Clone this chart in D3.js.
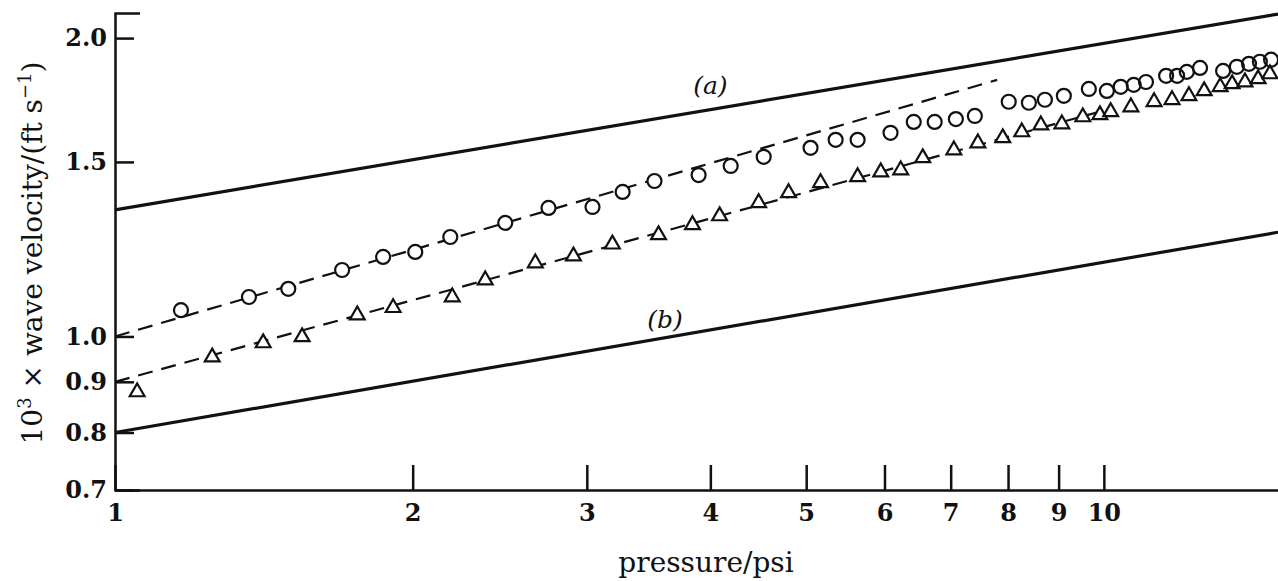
<!DOCTYPE html>
<html>
<head>
<meta charset="utf-8">
<script src="https://cdn.jsdelivr.net/npm/d3@7"></script>
<style>
  html, body { margin: 0; padding: 0; background: #fff; }
  svg { display: block; }
  text { font-family: "DejaVu Serif", serif; fill: #111; }
</style>
</head>
<body>
<svg id="chart" width="1278" height="581"></svg>
<script>
// Measured wave velocities (10^3 ft/s) against pressure (psi)
const circlePressure = [1.166, 1.366, 1.497, 1.697, 1.867, 2.012, 2.183, 2.481, 2.744, 3.040,
  3.261, 3.512, 3.892, 4.194, 4.529, 5.051, 5.355, 5.636, 6.085, 6.423, 6.744, 7.085, 7.405,
  8.013, 8.398, 8.717, 9.110, 9.656, 10.07, 10.40, 10.72, 11.03, 11.56, 11.86, 12.13, 12.51,
  13.20, 13.63, 14.02, 14.38, 14.76];
const circleVelocity = [1.063, 1.096, 1.117, 1.167, 1.203, 1.217, 1.260, 1.302, 1.348, 1.351,
  1.399, 1.435, 1.455, 1.486, 1.518, 1.550, 1.579, 1.579, 1.605, 1.646, 1.646, 1.657, 1.669,
  1.725, 1.721, 1.733, 1.749, 1.777, 1.769, 1.786, 1.794, 1.806, 1.832, 1.832, 1.849, 1.866,
  1.853, 1.871, 1.884, 1.893, 1.902];

const trianglePressure = [1.053, 1.254, 1.412, 1.546, 1.758, 1.911, 2.193, 2.368, 2.661, 2.908,
  3.184, 3.545, 3.837, 4.087, 4.476, 4.799, 5.170, 5.636, 5.948, 6.231, 6.559, 7.052, 7.457,
  7.902, 8.260, 8.635, 9.068, 9.522, 9.908, 10.16, 10.65, 11.24, 11.72, 12.19, 12.63, 13.11,
  13.48, 13.89, 14.32, 14.72];
const triangleVelocity = [0.879, 0.953, 0.985, 0.999, 1.051, 1.069, 1.096, 1.140, 1.186, 1.205,
  1.239, 1.266, 1.296, 1.323, 1.364, 1.396, 1.429, 1.449, 1.465, 1.472, 1.514, 1.542, 1.567,
  1.586, 1.608, 1.634, 1.638, 1.665, 1.673, 1.685, 1.704, 1.725, 1.733, 1.749, 1.769, 1.786,
  1.798, 1.806, 1.819, 1.840];

// Limiting curves (a) and (b)
const lineAPressure = [1, 15];
const lineAVelocity = [1.342, 2.115];
const lineBPressure = [1, 15];
const lineBVelocity = [0.80, 1.274];

// Dashed fits through the two data sets
const fitCirclePressure = [1, 7.8];
const fitCircleVelocity = [1.0, 1.815];
const fitTrianglePressure = [1, 10];
const fitTriangleVelocity = [0.9, 1.69];

// Curve labels: text, pressure, velocity
const curveLabels = ["(a)", "(b)"];
const curveLabelPressure = [4.0, 3.6];
const curveLabelVelocity = [1.755, 1.02];

const xTicks = [1, 2, 3, 4, 5, 6, 7, 8, 9, 10];
const yTicks = [0.7, 0.8, 0.9, 1.0, 1.5, 2.0];
const xTitle = "pressure/psi";

const svg = d3.select("#chart");
const ink = "#111";

const x = d3.scaleLog().domain([1, 15]).range([115, 1278]);
const y = d3.scaleLog().domain([0.7, 2.12]).range([490, 13]);

const zip = (ps, vs) => ps.map((p, i) => ({ p, v: vs[i] }));
const line = d3.line().x(d => x(d.p)).y(d => y(d.v));

// Axes
const xAxis = d3.axisBottom(x)
  .tickValues(xTicks)
  .tickFormat(d3.format("d"))
  .tickSizeInner(-25)
  .tickSizeOuter(0)
  .tickPadding(14);
const yAxis = d3.axisLeft(y)
  .tickValues(yTicks)
  .tickFormat(d3.format(".1f"))
  .tickSizeInner(-19)
  .tickSizeOuter(-25)
  .tickPadding(8);

function styleAxis(g) {
  g.attr("font-family", null).attr("font-size", null);
  g.select(".domain").attr("stroke", ink).attr("stroke-width", 2.5);
  g.selectAll(".tick line").attr("stroke", ink).attr("stroke-width", 2.5);
  g.selectAll(".tick text")
    .attr("fill", ink)
    .style("font-size", "24px")
    .style("font-weight", "bold");
}

svg.append("g").attr("transform", "translate(0,490)").call(xAxis).call(styleAxis);
svg.append("g").attr("transform", "translate(115,0)").call(yAxis).call(styleAxis);

// Solid limiting lines
[[lineAPressure, lineAVelocity], [lineBPressure, lineBVelocity]].forEach(([ps, vs]) => {
  svg.append("path")
    .datum(zip(ps, vs))
    .attr("d", line)
    .attr("fill", "none")
    .attr("stroke", ink)
    .attr("stroke-width", 3.2);
});

// Dashed fit lines
[[fitCirclePressure, fitCircleVelocity], [fitTrianglePressure, fitTriangleVelocity]].forEach(([ps, vs]) => {
  svg.append("path")
    .datum(zip(ps, vs))
    .attr("d", line)
    .attr("fill", "none")
    .attr("stroke", ink)
    .attr("stroke-width", 2.2)
    .attr("stroke-dasharray", "15,9");
});

// Markers: white under-layer first so outlines of overlapping markers stay visible
const circles = zip(circlePressure, circleVelocity);
const triangles = zip(trianglePressure, triangleVelocity);
const tri = d3.symbol().type(d3.symbolTriangle).size(95);

const under = svg.append("g").attr("fill", "#fff").attr("stroke", "none");
under.selectAll("circle").data(circles).join("circle")
  .attr("cx", d => x(d.p)).attr("cy", d => y(d.v)).attr("r", 7);
under.selectAll("path").data(triangles).join("path")
  .attr("d", tri).attr("transform", d => `translate(${x(d.p)},${y(d.v)})`);

const over = svg.append("g").attr("fill", "none").attr("stroke", ink).attr("stroke-width", 2.2);
over.selectAll("circle").data(circles).join("circle")
  .attr("cx", d => x(d.p)).attr("cy", d => y(d.v)).attr("r", 7);
over.selectAll("path").data(triangles).join("path")
  .attr("d", tri).attr("transform", d => `translate(${x(d.p)},${y(d.v)})`);

// Curve labels
svg.selectAll(".curve-label").data(curveLabels).join("text")
  .attr("class", "curve-label")
  .attr("x", (d, i) => x(curveLabelPressure[i]))
  .attr("y", (d, i) => y(curveLabelVelocity[i]))
  .attr("text-anchor", "middle")
  .style("font-size", "25px")
  .style("font-style", "italic")
  .text(d => d);

// Axis titles
svg.append("text")
  .attr("x", 706).attr("y", 572)
  .attr("text-anchor", "middle")
  .style("font-size", "28px")
  .text(xTitle);

const yTitle = svg.append("text")
  .attr("transform", "translate(42,253) rotate(-90)")
  .attr("text-anchor", "middle")
  .style("font-size", "28px");
yTitle.append("tspan").text("10");
yTitle.append("tspan").attr("dy", -11).style("font-size", "18px").text("3");
yTitle.append("tspan").attr("dy", 11).text(" \u00d7 wave velocity/(ft s");
yTitle.append("tspan").attr("dy", -11).style("font-size", "18px").text("\u22121");
yTitle.append("tspan").attr("dy", 11).text(")");
</script>
</body>
</html>
